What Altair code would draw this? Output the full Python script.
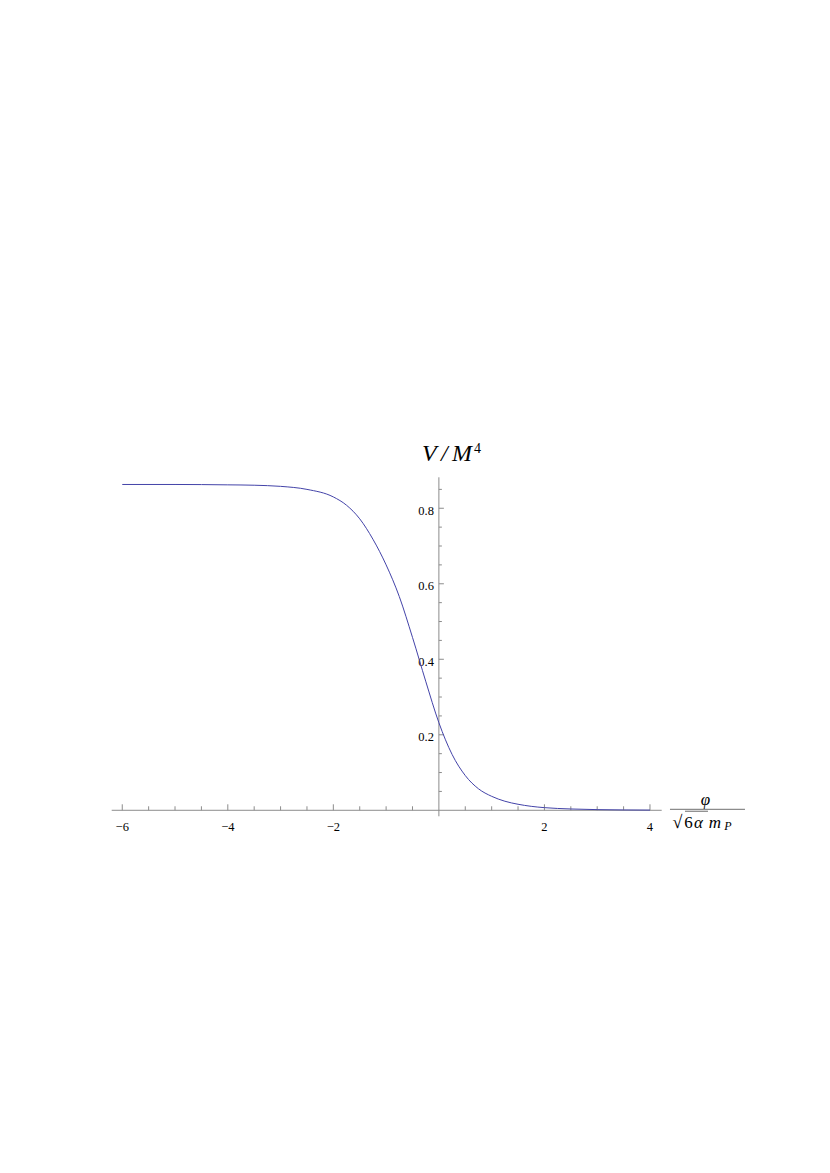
import altair as alt
import pandas as pd

# curve
x_vals = [-6.0, -5.0, -4.0, -3.5, -3.0, -2.5, -2.0, -1.75, -1.5, -1.25, -1.0, -0.75,
          -0.5, -0.25, 0.0, 0.25, 0.5, 0.75, 1.0, 1.25, 1.5, 1.75, 2.0, 2.5, 3.0, 3.5, 4.0]
v_vals = [0.863, 0.863, 0.862, 0.861, 0.858, 0.850, 0.830, 0.808, 0.772, 0.718, 0.650, 0.566,
          0.458, 0.342, 0.232, 0.148, 0.092, 0.057, 0.037, 0.024, 0.016, 0.0105, 0.007,
          0.0035, 0.0018, 0.0009, 0.0005]

x_major = [-6, -4, -2, 2, 4]
x_major_labels = ["\u22126", "\u22124", "\u22122", "2", "4"]
x_minor = [-5.5, -5, -4.5, -3.5, -3, -2.5, -1.5, -1, -0.5, 0.5, 1, 1.5, 2.5, 3, 3.5]
y_major = [0.2, 0.4, 0.6, 0.8]
y_major_labels = ["0.2", "0.4", "0.6", "0.8"]
y_minor = [0.05, 0.1, 0.15, 0.25, 0.3, 0.35, 0.45, 0.5, 0.55, 0.65, 0.7, 0.75, 0.85]

X_DOMAIN = [-6.2, 4.222]
Y_DOMAIN = [0.0, 0.882]

xs = alt.Scale(domain=X_DOMAIN, nice=False, zero=False)
ys = alt.Scale(domain=Y_DOMAIN, nice=False, zero=False)

AX = "#8c8c8c"
SERIF = "'Liberation Serif', serif"


def X(f, **kw):
    return alt.X(f, scale=xs, axis=None, **kw)


def Y(f, **kw):
    return alt.Y(f, scale=ys, axis=None, **kw)


curve = pd.DataFrame({"x": x_vals, "v": v_vals})
base_pt = pd.DataFrame({"x": [0.0], "y": [0.0], "xa": [X_DOMAIN[0]], "xb": [X_DOMAIN[1]],
                        "ytop": [Y_DOMAIN[1]]})

line = alt.Chart(curve).mark_line(color="#4242a8", strokeWidth=1.0,
                                  interpolate="monotone").encode(x=X("x:Q"), y=Y("v:Q"))

x_axis = alt.Chart(base_pt).mark_rule(color=AX, strokeWidth=1).encode(
    x=X("xa:Q"), x2="xb:Q", y=Y("y:Q"))
y_axis = alt.Chart(base_pt).mark_rule(color=AX, strokeWidth=1, y2Offset=6).encode(
    x=X("x:Q"), y=Y("ytop:Q"), y2="y:Q")

xmaj = pd.DataFrame({"x": x_major, "y": 0.0, "label": x_major_labels})
xmin = pd.DataFrame({"x": x_minor, "y": 0.0})
ymaj = pd.DataFrame({"x": 0.0, "y": y_major, "label": y_major_labels})
ymin = pd.DataFrame({"x": 0.0, "y": y_minor})

xmaj_ticks = alt.Chart(xmaj).mark_rule(color=AX, strokeWidth=1, y2Offset=-6).encode(
    x=X("x:Q"), y=Y("y:Q"), y2="y:Q")
xmin_ticks = alt.Chart(xmin).mark_rule(color=AX, strokeWidth=1, y2Offset=-4).encode(
    x=X("x:Q"), y=Y("y:Q"), y2="y:Q")
ymaj_ticks = alt.Chart(ymaj).mark_rule(color=AX, strokeWidth=1, x2Offset=5).encode(
    x=X("x:Q"), x2="x:Q", y=Y("y:Q"))
ymin_ticks = alt.Chart(ymin).mark_rule(color=AX, strokeWidth=1, x2Offset=3).encode(
    x=X("x:Q"), x2="x:Q", y=Y("y:Q"))

xlabels = alt.Chart(xmaj).mark_text(font=SERIF, fontSize=12.5, color="black", align="center",
                                    baseline="alphabetic", dy=20.5).encode(
    x=X("x:Q"), y=Y("y:Q"), text="label:N")
ylabels = alt.Chart(ymaj).mark_text(font=SERIF, fontSize=12.5, color="black", align="right",
                                    baseline="alphabetic", dx=-5, dy=6.5).encode(
    x=X("x:Q"), y=Y("y:Q"), text="label:N")


def glyph(txt, xcol, ycol, dx, dy, size, italic=True):
    kw = dict(font=SERIF, fontSize=size, color="black", align="center",
              baseline="alphabetic", dx=dx, dy=dy, text=txt)
    if italic:
        kw["fontStyle"] = "italic"
    return alt.Chart(base_pt).mark_text(**kw).encode(x=X(xcol), y=Y(ycol))


# y-axis title V/M^4, anchored at top of the y axis
ytitle = [
    glyph("V", "x:Q", "ytop:Q", -9.6, -16.3, 24),
    glyph("/", "x:Q", "ytop:Q", 5.5, -16.3, 24),
    glyph("M", "x:Q", "ytop:Q", 23.2, -16.3, 24),
    glyph("4", "x:Q", "ytop:Q", 38.5, -24.0, 14, italic=False),
]

# x-axis title phi / (sqrt(6) alpha m_P), anchored at the right end tick (x=4)
anchor4 = pd.DataFrame({"x": [4.0], "y": [0.0]})


def glyph4(txt, dx, dy, size, italic=True):
    kw = dict(font=SERIF, fontSize=size, color="black", align="center",
              baseline="alphabetic", dx=dx, dy=dy, text=txt)
    if italic:
        kw["fontStyle"] = "italic"
    return alt.Chart(anchor4).mark_text(**kw).encode(x=X("x:Q"), y=Y("y:Q"))


frac_line = alt.Chart(anchor4).mark_rule(color=AX, strokeWidth=1.3, xOffset=20, x2Offset=95,
                                         yOffset=-1).encode(
    x=X("x:Q"), x2="x:Q", y=Y("y:Q"))
sqrt_bar = alt.Chart(anchor4).mark_rule(color=AX, strokeWidth=1.3, xOffset=35, x2Offset=58,
                                        yOffset=1).encode(
    x=X("x:Q"), x2="x:Q", y=Y("y:Q"))

xtitle = [
    frac_line,
    sqrt_bar,
    glyph4("\u03c6", 55.5, -4.8, 17),
    glyph4("\u221a", 27.5, 17.4, 18, italic=False),
    glyph4("6", 38.5, 17.4, 17, italic=False),
    glyph4("\u03b1", 48.5, 17.4, 17),
    glyph4("m", 65.0, 17.4, 17),
    glyph4("P", 78.0, 19.7, 12),
]

chart = alt.layer(
    x_axis, y_axis, xmaj_ticks, xmin_ticks, ymaj_ticks, ymin_ticks,
    xlabels, ylabels, line, *ytitle, *xtitle
).properties(
    width=550.0, height=333.0,
    autosize=alt.AutoSizeParams(type="none"),
    padding={"left": 103.7, "top": 469.3, "right": 160, "bottom": 60},
).configure_view(stroke=None)

chart.save("out.html", embed_options={"renderer": "svg", "actions": False})
